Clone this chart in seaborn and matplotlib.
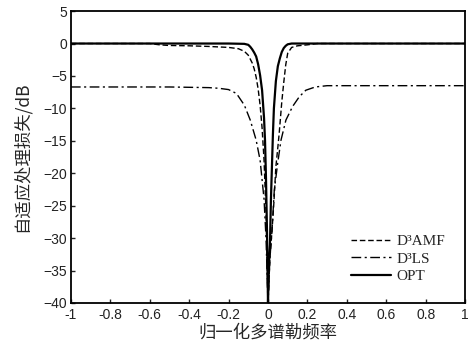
import numpy as np
import pandas as pd
import matplotlib
matplotlib.use("Agg")
import matplotlib.pyplot as plt
import seaborn as sns

# ---- data ----
opt_x = [-1, -0.5, -0.2, -0.12, -0.1, -0.09, -0.08, -0.07, -0.06, -0.05, -0.04, -0.03,
         -0.02, -0.015, -0.01, -0.005, 0, 0.005, 0.01, 0.015, 0.02, 0.025, 0.03, 0.04,
         0.05, 0.06, 0.07, 0.08, 0.09, 0.1, 0.12, 0.2, 0.5, 1]
opt_y = [0, 0, 0, -0.05, -0.2, -0.5, -0.9, -1.4, -2.0, -3.2, -4.9, -7.2,
         -11.5, -15, -21, -29, -40, -34, -31, -24, -19, -14, -10, -5.8,
         -3.5, -2.3, -1.3, -0.7, -0.35, -0.12, 0, 0, 0, 0]

amf_x = [-1, -0.6, -0.55, -0.5, -0.4, -0.3, -0.2, -0.15, -0.12, -0.1, -0.08, -0.07,
         -0.06, -0.05, -0.04, -0.03, -0.02, -0.01, 0, 0.01, 0.02, 0.03, 0.04, 0.05,
         0.057, 0.07, 0.08, 0.09, 0.1, 0.12, 0.15, 0.2, 0.25, 0.5, 1]
amf_y = [0, 0, -0.2, -0.3, -0.35, -0.45, -0.6, -0.8, -1.2, -1.8, -3.0, -3.9,
         -5.2, -7.0, -9.5, -13, -18, -26, -40, -33, -29, -24.5, -19, -16,
         -13.8, -9, -6, -3.3, -1.5, -0.6, -0.35, -0.2, 0, 0, 0]

ls_x = [-1, -0.5, -0.3, -0.25, -0.2, -0.16, -0.12, -0.09, -0.06, -0.04, -0.02, -0.01,
        0, 0.01, 0.02, 0.032, 0.049, 0.066, 0.091, 0.125, 0.159, 0.192, 0.24, 0.3, 1]
ls_y = [-6.7, -6.7, -6.8, -6.9, -7.1, -7.7, -9.5, -11.8, -14.9, -18, -24, -30,
        -40, -33, -29, -22.6, -18.5, -14.9, -11.8, -9.7, -8.2, -7.2, -6.7, -6.5, -6.5]

series_labels = ["D³AMF", "D³LS", "OPT"]
x_ticks = [-1, -0.8, -0.6, -0.4, -0.2, 0, 0.2, 0.4, 0.6, 0.8, 1]
x_tick_labels = ["-1", "-0.8", "-0.6", "-0.4", "-0.2", "0", "0.2", "0.4", "0.6", "0.8", "1"]
y_ticks = [5, 0, -5, -10, -15, -20, -25, -30, -35, -40]
x_label = "归一化多谱勒频率"
y_label = "自适应处理损失/dB"

# ---- style ----
sns.set_style("ticks")
plt.rcParams["font.family"] = ["Liberation Sans", "DejaVu Sans"]

fig = plt.figure(figsize=(4.76, 3.47), dpi=100)
ax = fig.add_axes([0.149, 0.127, 0.828, 0.841])

df_amf = pd.DataFrame({"x": amf_x, "y": amf_y})
df_ls = pd.DataFrame({"x": ls_x, "y": ls_y})
df_opt = pd.DataFrame({"x": opt_x, "y": opt_y})

sns.lineplot(data=df_amf, x="x", y="y", ax=ax, color="black", lw=1.0,
             label=series_labels[0])
sns.lineplot(data=df_ls, x="x", y="y", ax=ax, color="black", lw=1.0,
             label=series_labels[1])
sns.lineplot(data=df_opt, x="x", y="y", ax=ax, color="black", lw=1.6,
             label=series_labels[2])
lines = ax.get_lines()
lines[0].set_dashes([4, 2])
lines[1].set_dashes([7, 2.5, 1.5, 2.5])

ax.set_xlim(-1, 1)
ax.set_ylim(-40, 5)
ax.set_xticks(x_ticks)
ax.set_xticklabels(x_tick_labels)
ax.set_yticks(y_ticks)
ax.tick_params(direction="in", length=3, width=1, labelsize=10, colors="#222222")
ax.tick_params(axis="x", pad=4)
ax.tick_params(axis="y", pad=3)
for s in ax.spines.values():
    s.set_visible(True)
    s.set_linewidth(1.3)
    s.set_color("black")

cjk = ["Noto Sans CJK SC", "DejaVu Sans"]
ax.set_xlabel(x_label, family=cjk, fontsize=12.5, labelpad=1)
ax.set_ylabel(y_label, family=cjk, fontsize=12.5, labelpad=9)

leg = ax.legend(loc="lower right", frameon=False,
                prop={"family": "Liberation Serif", "size": 11},
                handlelength=2.6, handletextpad=0.4, labelspacing=0.25,
                bbox_to_anchor=(0.985, 0.02))
for h in leg.get_lines():
    h.set_color("black")

fig.savefig("out.png", dpi=100)
